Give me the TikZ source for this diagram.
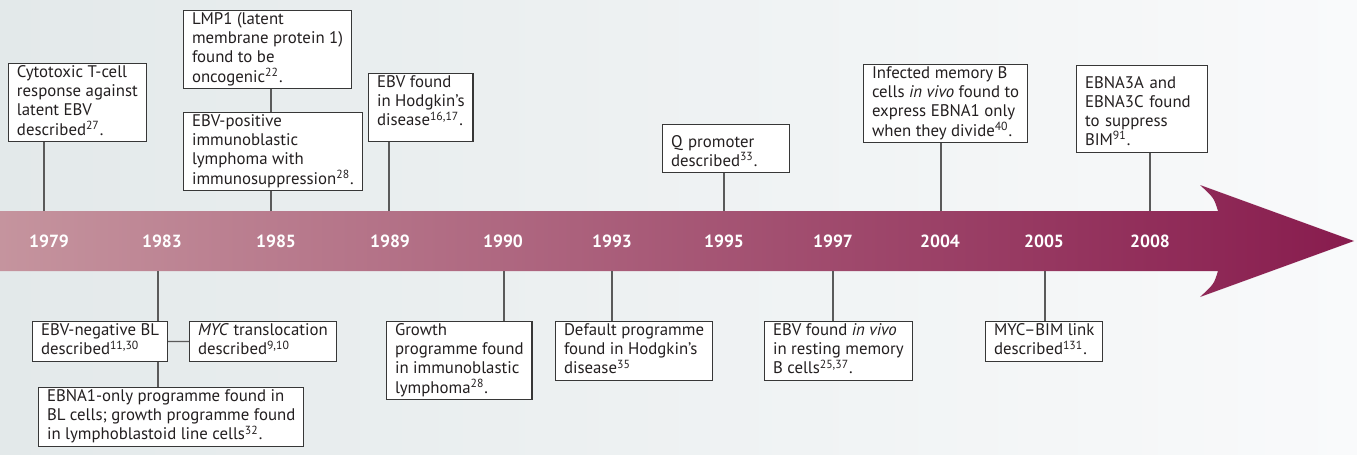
\documentclass[tikz,border=0pt]{standalone}
\usepackage{fontspec}
\setmainfont{PT Sans}
\usetikzlibrary{calc}

\definecolor{bgleft}{RGB}{227,233,234}
\definecolor{bgright}{RGB}{249,250,251}
\definecolor{bandleft}{RGB}{197,148,158}
\definecolor{bandright}{RGB}{136,28,78}
\definecolor{boxline}{RGB}{55,55,55}
\definecolor{linkgray}{RGB}{90,90,90}
\definecolor{ink}{RGB}{35,31,32}

\tikzset{
    event/.style={draw=boxline, fill=white, line width=0.6pt, anchor=north west,
        align=left, text=ink, inner xsep=4.2pt, inner ysep=1pt,
        font=\fontsize{8.4}{9.6}\selectfont,
        execute at begin node={\rule{0pt}{10.2pt}},
        execute at end node={\rule[-#1]{0pt}{#1}}},
    event/.default=2.3pt,
    year/.style={text=white, font=\fontsize{8.8}{10}\selectfont\bfseries},
    link/.style={draw=linkgray, line width=0.6pt}
}

\begin{document}
\begin{tikzpicture}[x=0.5pt, y=-0.5pt]
    %page and background
        \useasboundingbox (0,0) rectangle (1357,455);
        \shade[left color=bgleft, right color=bgright] (0,0) rectangle (1357,455);

    %time arrow
        \shade[left color=bandleft, right color=bandright]
            (0,211) -- (1218,211) .. controls (1214,198) .. (1200,185)
            -- (1354,241) -- (1200,297) .. controls (1214,284) .. (1218,271)
            -- (0,271) -- cycle;

    %years and the points where the links meet the arrow
        \foreach \yr/\xl/\xx in {1979/49/44, 1983/162/158, 1985/276/271, 1989/390/389,
            1990/503/504, 1993/612/612, 1995/724/724, 1997/833/833,
            2004/940/941, 2005/1044/1045, 2008/1150/1150}{
            \node[year] (y\yr) at (\xl,241) {\yr};
            \coordinate (t\yr) at (\xx,211);
            \coordinate (b\yr) at (\xx,271);
        }

    %events above the arrow
        \node[event] (cyto) at (8,63) {Cytotoxic T-cell\\response against\\latent EBV\\described\textsuperscript{27}.};
        \node[event] (lmp) at (183,10) {LMP1 (latent\\membrane protein 1)\\found to be\\oncogenic\textsuperscript{22}.};
        \node[event] (ebvpos) at (183,112) {EBV-positive\\immunoblastic\\lymphoma with\\immunosuppression\textsuperscript{28}.};
        \node[event=6.8pt] (hodg) at (368,73) {EBV found\\in Hodgkin’s\\disease\textsuperscript{16,17}.};
        \node[event, text width=55pt] (qprom) at (662,124) {Q promoter\\described\textsuperscript{33}.};
        \node[event] (memb) at (863,64) {Infected memory B\\cells \emph{in vivo} found to\\express EBNA1 only\\when they divide\textsuperscript{40}.};
        \node[event, text width=57pt] (ebna3) at (1076,65) {EBNA3A and\\EBNA3C found\\to suppress\\BIM\textsuperscript{91}.};

    %events below the arrow
        \node[event] (bl) at (32,321) {EBV-negative BL\\described\textsuperscript{11,30}};
        \node[event] (myc) at (189,321) {\emph{MYC} translocation\\described\textsuperscript{9,10}};
        \node[event] (ebna1) at (38,387) {EBNA1-only programme found in\\BL cells; growth programme found\\in lymphoblastoid line cells\textsuperscript{32}.};
        \node[event] (growth) at (386,321) {Growth\\programme found\\in immunoblastic\\lymphoma\textsuperscript{28}.};
        \node[event] (default) at (555,321) {Default programme\\found in Hodgkin’s\\disease\textsuperscript{35}};
        \node[event] (invivo) at (764,321) {EBV found \emph{in vivo}\\in resting memory\\B cells\textsuperscript{25,37}.};
        \node[event] (mycbim) at (985,321) {MYC–BIM link\\described\textsuperscript{131}.};

    %links up
        \draw[link] (t1979) -- (t1979 |- cyto.south);
        \draw[link] (t1985) -- (t1985 |- ebvpos.south);
        \draw[link] (t1985 |- ebvpos.north) -- (t1985 |- lmp.south);
        \draw[link] (t1989) -- (t1989 |- hodg.south);
        \draw[link] (t1995) -- (t1995 |- qprom.south);
        \draw[link] (t2004) -- (t2004 |- memb.south);
        \draw[link] (t2008) -- (t2008 |- ebna3.south);

    %links down
        \draw[link] (b1983) -- (b1983 |- bl.north);
        \draw[link] (b1983 |- bl.south) -- (b1983 |- ebna1.north);
        \draw[link] (bl.east) -- (myc.west);
        \draw[link] (b1990) -- (b1990 |- growth.north);
        \draw[link] (b1993) -- (b1993 |- default.north);
        \draw[link] (b1997) -- (b1997 |- invivo.north);
        \draw[link] (b2005) -- (b2005 |- mycbim.north);
\end{tikzpicture}
\end{document}
